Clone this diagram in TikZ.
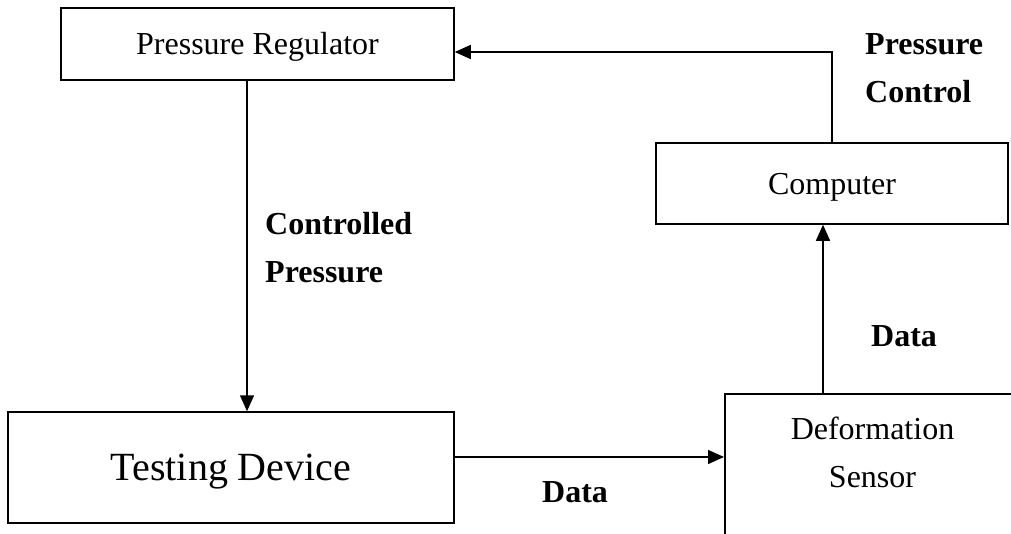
\documentclass[tikz,border=0pt]{standalone}
\usepackage{fontspec}
\setmainfont{Liberation Serif}
\usetikzlibrary{arrows.meta}
\tikzset{
  box/.style={draw, line width=1.5pt, inner sep=0pt, font=\fontsize{32}{48}\selectfont, text height=21pt, text depth=0pt},
  lbl/.style={inner sep=0pt, anchor=base west, align=left, font=\fontsize{32}{48}\selectfont\bfseries},
  txt/.style={inner sep=0pt, anchor=base, align=center, font=\fontsize{32}{48}\selectfont},
  arr/.style={line width=1.5pt, -{Triangle[length=16pt,width=14pt]}},
  ln/.style={line width=1.5pt}
}
\begin{document}
\begin{tikzpicture}[x=1pt,y=-1pt]
\useasboundingbox (0,0) rectangle (1011,533);
\clip (0,0) rectangle (1011,533);
\node[box, minimum width=393pt, minimum height=72pt] (reg) at (257.5,44) {Pressure Regulator};
\node[box, minimum width=352pt, minimum height=81pt] (comp) at (832,183.5) {Computer};
\node[box, minimum width=446pt, minimum height=111pt, font=\fontsize{40}{48}\selectfont, text height=26pt] (td) at (231,467.5) {Testing Device};
\node[box, minimum width=330pt, minimum height=220pt, anchor=north west] (sensor) at (724,393) {};
\node[txt] (senstxt) at (872.5,487) {Deformation\\Sensor};
\node[lbl] (l1) at (265,282) {Controlled\\Pressure};
\node[lbl] (l2) at (865,102) {Pressure\\Control};
\node[lbl] (l3) at (871,346) {Data};
\node[lbl] (l4) at (542,502) {Data};
\draw[arr] ([xshift=-10.5pt]reg.south) -- ([xshift=-10.5pt]reg.south |- td.north);
\draw[arr] ([yshift=10.5pt]td.east) -- ([yshift=10.5pt]td.east -| sensor.west);
\draw[arr] ([xshift=-9pt]comp.south |- sensor.north) -- ([xshift=-9pt]comp.south);
\draw[arr] (comp.north) |- ([yshift=-8pt]reg.east);
\end{tikzpicture}
\end{document}
